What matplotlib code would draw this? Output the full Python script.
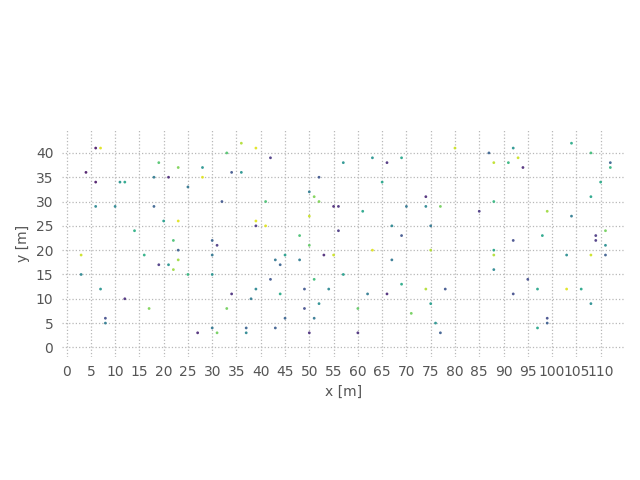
import matplotlib
matplotlib.use("Agg")
import matplotlib.pyplot as plt

# ─── DATA (positions in metres, colour value 0..1 on viridis) ──────────────────
x_pos = [6, 7, 4, 6, 11, 12, 18, 21, 19, 23, 28, 28, 25, 33, 36, 34, 36, 32, 6, 10,
         18, 20, 23, 14, 22, 30,
         39, 42, 52, 57, 63, 66, 69, 65, 50, 41, 51, 52, 55, 56, 61, 39, 39, 41, 50,
         56, 48, 67, 69, 70, 74, 74, 75,
         80, 87, 92, 93, 88, 91, 94, 104, 108, 112, 112, 110, 108, 88, 77, 85, 99, 104,
         98, 111, 109, 92, 109,
         3, 3, 7, 8, 8, 12, 16, 17, 19, 21, 23, 23, 22, 25, 31, 30, 30, 34, 33, 27, 30,
         31, 37, 37,
         50, 75, 63, 53, 55, 45, 43, 44, 48, 67, 57, 42, 51, 69, 74, 39, 49, 54, 44, 62,
         66, 38, 52, 75, 49, 60, 71, 45, 51, 76, 43, 50, 60,
         111, 88, 88, 103, 108, 111, 88, 95, 78, 97, 103, 106, 92, 108, 99, 99, 97, 77]
y_pos = [41, 41, 36, 34, 34, 34, 35, 35, 38, 37, 37, 35, 33, 40, 42, 36, 36, 30, 29, 29,
         29, 26, 26, 24, 22, 22,
         41, 39, 35, 38, 39, 38, 39, 34, 32, 30, 31, 30, 29, 29, 28, 26, 25, 25, 27,
         24, 23, 25, 23, 29, 31, 29, 25,
         41, 40, 41, 39, 38, 38, 37, 42, 40, 38, 37, 34, 31, 30, 29, 28, 28, 27,
         23, 24, 23, 22, 22,
         19, 15, 12, 6, 5, 10, 19, 8, 17, 17, 20, 18, 16, 15, 21, 19, 15, 11, 8, 3, 4,
         3, 4, 3,
         21, 20, 20, 19, 19, 19, 18, 17, 18, 18, 15, 14, 14, 13, 12, 12, 12, 12, 11, 11,
         11, 10, 9, 9, 8, 8, 7, 6, 6, 5, 4, 3, 3,
         21, 20, 19, 19, 19, 19, 16, 14, 12, 12, 12, 12, 11, 9, 6, 5, 4, 3]
c_val = [0.05, 0.95, 0.05, 0.05, 0.50, 0.58, 0.40, 0.10, 0.72, 0.80, 0.50, 0.95, 0.38,
         0.72, 0.88, 0.25, 0.50, 0.25, 0.45, 0.45, 0.30, 0.55, 0.95, 0.62, 0.70, 0.30,
         0.95, 0.15, 0.25, 0.50, 0.50, 0.12, 0.58, 0.58, 0.40, 0.70, 0.80, 0.80, 0.10,
         0.12, 0.58, 0.95, 0.15, 0.95, 0.92, 0.15, 0.70, 0.45, 0.25, 0.38, 0.10, 0.45,
         0.38,
         0.92, 0.30, 0.50, 0.92, 0.90, 0.65, 0.10, 0.60, 0.68, 0.30, 0.65, 0.60, 0.58,
         0.65, 0.78, 0.15, 0.85, 0.40, 0.58, 0.78, 0.15, 0.22, 0.15,
         0.92, 0.45, 0.50, 0.22, 0.40, 0.12, 0.62, 0.80, 0.15, 0.50, 0.28, 0.85, 0.85,
         0.65, 0.15, 0.38, 0.50, 0.12, 0.78, 0.10, 0.38, 0.78, 0.30, 0.45,
         0.75, 0.88, 0.95, 0.10, 0.92, 0.55, 0.38, 0.30, 0.40, 0.38, 0.55, 0.25, 0.68,
         0.60, 0.88, 0.45, 0.25, 0.45, 0.60, 0.40, 0.10, 0.40, 0.48, 0.55, 0.22, 0.75,
         0.78, 0.30, 0.38, 0.50, 0.28, 0.12, 0.12,
         0.48, 0.58, 0.88, 0.48, 0.92, 0.28, 0.45, 0.22, 0.25, 0.58, 0.95, 0.58, 0.22,
         0.48, 0.22, 0.28, 0.58, 0.28]

x_ticks = list(range(0, 111, 5))
y_ticks = list(range(0, 41, 5))

fig = plt.figure(figsize=(6.4, 4.8), dpi=100)
ax = fig.add_axes([0.0964, 0.256, 0.880, 0.473])

ax.scatter(x_pos, y_pos, c=c_val, cmap="viridis", vmin=0, vmax=1,
           s=4, linewidths=0, alpha=0.9, zorder=3)

ax.set_xlim(-1, 115)
ax.set_ylim(-2, 44.7)
ax.set_aspect("equal", adjustable="datalim")
ax.set_xticks(x_ticks)
ax.set_yticks(y_ticks)
ax.grid(True, linestyle=":", color="#b8b8b8", linewidth=0.9)
ax.set_axisbelow(True)
for sp in ax.spines.values():
    sp.set_visible(False)
ax.tick_params(length=0, pad=6, labelsize=10, colors="#555555")
ax.set_xlabel("x [m]", color="#555555", fontsize=10)
ax.set_ylabel("y [m]", color="#555555", fontsize=10)

plt.savefig("out.png", dpi=100)
